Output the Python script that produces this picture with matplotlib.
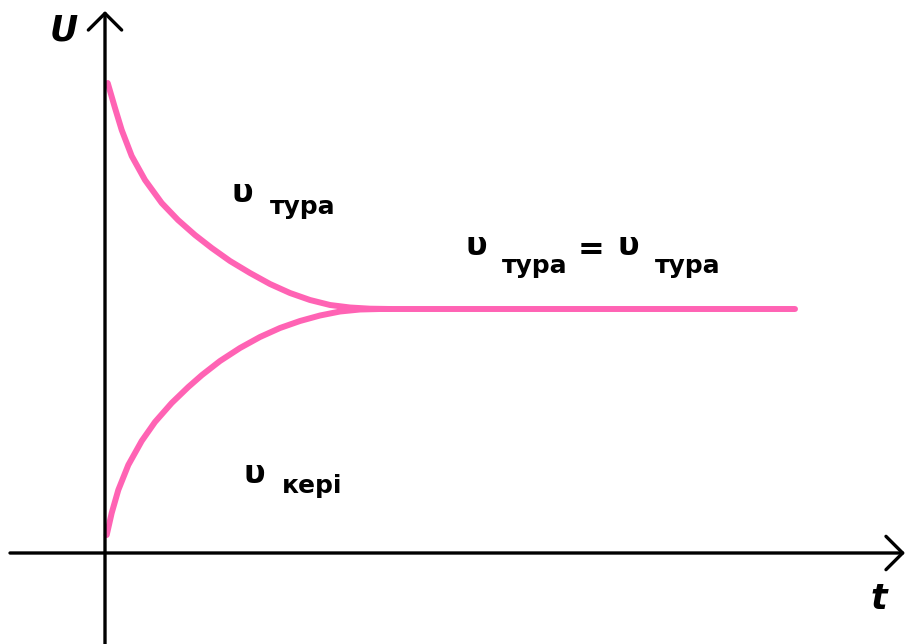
import matplotlib.pyplot as plt

# readings from the picture (units: pixels from the origin)
t_down = [2.7, 10, 16.7, 26.7, 40, 56.7, 73, 90, 106.7, 125, 145, 165, 185, 205, 225, 245, 265, 285]
v_down = [470, 445, 423, 397, 373, 350, 333, 318, 305, 292, 280, 269, 260, 253, 248, 245.5, 244.3, 244]
t_up = [1.7, 6.7, 13.3, 23.3, 36.7, 50, 66.7, 83.3, 97, 115, 135, 155, 175, 195, 215, 235, 255, 275, 285]
v_up = [18, 40, 63, 88, 112, 131, 150, 166, 178, 192, 205, 216, 225, 232, 237.5, 241.5, 243.5, 244, 244]
t_flat = [285, 690]
v_flat = [244, 244]

pink = '#ff63b4'
fig = plt.figure(figsize=(9.1, 6.44), dpi=100)
ax = fig.add_axes([0, 0, 1, 1])
ax.set_xlim(-105, 805)
ax.set_ylim(-91, 553)
ax.axis('off')

#axes with open arrow heads
arr = dict(arrowstyle='->,head_length=0.6,head_width=0.6', lw=2.4, color='black',
           shrinkA=0, shrinkB=0, mutation_scale=20)
ax.annotate('', xy=(800, 0), xytext=(-95, 0), arrowprops=arr)
ax.annotate('', xy=(0, 542), xytext=(0, -91), arrowprops=arr)

#curves
for t, v in [(t_down, v_down), (t_up, v_up), (t_flat, v_flat)]:
    ax.plot(t, v, color=pink, lw=4.3, solid_capstyle='round', solid_joinstyle='round')

#labels
big = dict(fontsize=23, fontweight='bold', family='DejaVu Sans', va='baseline', ha='left')
small = dict(fontsize=18, fontweight='bold', family='DejaVu Sans', va='baseline', ha='left')
ax.text(-41, 523, 'U', fontsize=25, fontweight='bold', style='italic', family='DejaVu Sans',
        ha='center', va='center')
ax.text(774, -46, 't', fontsize=25, fontweight='bold', style='italic', family='DejaVu Sans',
        ha='center', va='center')

ax.text(127, 351, 'υ', **big)
ax.text(165, 339, 'тура', **small)

ax.text(360, 298, 'υ', **big)
ax.text(397, 280, 'тура', **small)
ax.text(486, 303, '=', fontsize=23, fontweight='bold', family='DejaVu Sans', ha='center', va='center')
ax.text(512, 298, 'υ', **big)
ax.text(550, 280, 'тура', **small)

ax.text(138, 70, 'υ', **big)
ax.text(177, 60, 'кері', **small)

fig.savefig('out.png', dpi=100)
